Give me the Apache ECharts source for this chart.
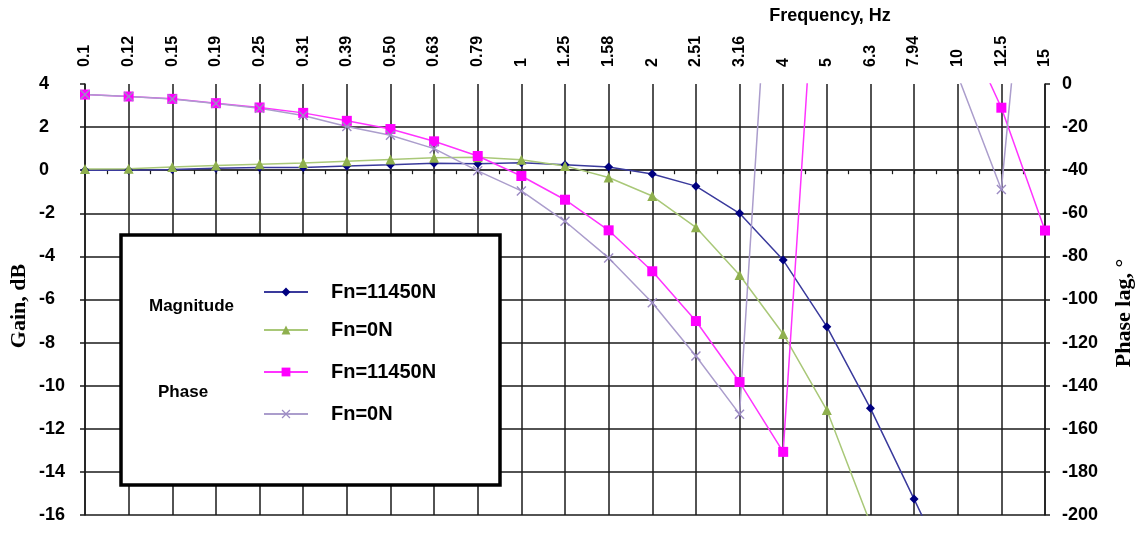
<!DOCTYPE html>
<html>
<head>
    <meta charset="utf-8">
    <title>Gain / Phase</title>
    <script src="https://cdn.jsdelivr.net/npm/echarts@6/dist/echarts.min.js"></script>
    <style>
        html, body { margin: 0; padding: 0; background: #fff; }
        #chart { width: 1137px; height: 533px; }
    </style>
</head>
<body>
    <div id="chart"></div>
    <script>
        // frequency categories (Hz)
        var freqs = ['0.1', '0.12', '0.15', '0.19', '0.25', '0.31', '0.39', '0.50', '0.63', '0.79', '1', '1.25', '1.58', '2', '2.51', '3.16', '4', '5', '6.3', '7.94', '10', '12.5', '15'];
        // gain, dB
        var gain11450 = [0.0, 0.0, 0.03, 0.09, 0.12, 0.12, 0.2, 0.25, 0.32, 0.3, 0.35, 0.25, 0.15, -0.18, -0.74, -2.0, -4.17, -7.26, -11.05, -15.26, -19.5, '-', '-'];
        var gain0 = [0.05, 0.07, 0.15, 0.22, 0.28, 0.33, 0.42, 0.5, 0.58, 0.6, 0.48, 0.2, -0.34, -1.2, -2.65, -4.86, -7.6, -11.13, -16.4, '-', '-', '-', '-'];
        // phase lag, deg ('-' = off the chart, not read)
        var phase11450 = [-4.9, -5.8, -6.9, -8.9, -10.9, -13.4, -17.1, -20.9, -26.6, -33.4, -42.7, -53.7, -67.9, -86.9, -110, -138.3, -170.7, 140, '-', '-', 33, -11, -68];
        var phase0 = [-4.9, -5.8, -7, -9, -11.3, -14.6, -19.7, -23.8, -30, -40.3, -49.6, -63.7, -80.7, -101.5, -126.2, -153.2, 168, '-', '-', '-', 4, -49, 164];

        var names = { mag11450: 'Fn=11450N', mag0: 'Fn=0N', ph11450: 'Fn=11450N', ph0: 'Fn=0N' };
        var crossSymbol = 'path://M0 1L1 0L5 4L9 0L10 1L6 5L10 9L9 10L5 6L1 10L0 9L4 5Z';
        var gridColor = '#1a1a1a';
        var labelFont = { fontFamily: 'Liberation Sans', fontWeight: 'bold', color: '#000' };

        function legendAt(name, top) {
            return {
                data: [name],
                left: 263,
                top: top,
                orient: 'vertical',
                padding: 0,
                itemWidth: 44,
                itemHeight: 11,
                z: 100,
                selectedMode: false,
                formatter: function (n) { return names[n]; },
                textStyle: { fontFamily: 'Liberation Sans', fontWeight: 'bold', fontSize: 20, color: '#000', padding: [0, 0, 0, 18] }
            };
        }

        var option = {
            backgroundColor: '#fff',
            animation: false,
            grid: { left: 85, right: 92, top: 84, bottom: 18 },
            legend: [
                legendAt('mag11450', 282),
                legendAt('mag0', 320),
                legendAt('ph11450', 362),
                legendAt('ph0', 404)
            ],
            xAxis: [{
                type: 'category',
                position: 'top',
                data: freqs,
                boundaryGap: false,
                axisLine: { lineStyle: { color: '#b3b3b3', width: 1.5 } },
                axisTick: { show: false },
                axisLabel: Object.assign({ rotate: 90, fontSize: 16, margin: 17, interval: 0 }, labelFont),
                splitLine: { show: true, lineStyle: { color: gridColor, width: 1.5 } }
            }, {
                // small ticks between frequencies on the 0 dB line
                type: 'value',
                position: 'bottom',
                min: 0,
                max: 22,
                interval: 0.5,
                axisLine: { onZero: true, onZeroAxisIndex: 0, lineStyle: { color: gridColor, width: 1.5 } },
                axisTick: { show: true, length: 4, lineStyle: { color: gridColor, width: 1.2 } },
                axisLabel: { show: false },
                splitLine: { show: false }
            }],
            yAxis: [{
                type: 'value',
                min: -16,
                max: 4,
                interval: 2,
                axisLine: { show: true, lineStyle: { color: gridColor, width: 1.5 } },
                axisTick: { show: true, length: 5, lineStyle: { color: gridColor, width: 1.5 } },
                axisLabel: Object.assign({ fontSize: 18, align: 'left', margin: 46 }, labelFont),
                splitLine: { show: true, showMaxLine: false, lineStyle: { color: gridColor, width: 1.5 } }
            }, {
                type: 'value',
                position: 'right',
                min: -200,
                max: 0,
                interval: 20,
                axisLine: { show: true, lineStyle: { color: gridColor, width: 1.5 } },
                axisTick: { show: true, length: 5, lineStyle: { color: gridColor, width: 1.5 } },
                axisLabel: Object.assign({ fontSize: 18, align: 'left', margin: 17 }, labelFont),
                splitLine: { show: false }
            }],
            graphic: [
                {
                    type: 'rect', z: 50,
                    shape: { x: 121, y: 235, width: 379, height: 250 },
                    style: { fill: '#fff', stroke: '#000', lineWidth: 3.5 }
                },
                {
                    type: 'text', z: 60, left: 149, top: 298,
                    style: { text: 'Magnitude', font: 'bold 17px "Liberation Sans"', fill: '#000' }
                },
                {
                    type: 'text', z: 60, left: 158, top: 384,
                    style: { text: 'Phase', font: 'bold 17px "Liberation Sans"', fill: '#000' }
                },
                {
                    type: 'text', z: 60, x: 830, y: 16,
                    style: { text: 'Frequency, Hz', font: 'bold 18px "Liberation Sans"', fill: '#000', align: 'center', verticalAlign: 'middle' }
                },
                {
                    type: 'text', z: 60, x: 19, y: 306, rotation: Math.PI / 2,
                    style: { text: 'Gain, dB', font: 'bold 22px "Liberation Serif"', fill: '#000', align: 'center', verticalAlign: 'middle' }
                },
                {
                    type: 'text', z: 60, x: 1124, y: 313, rotation: Math.PI / 2,
                    style: { text: 'Phase lag, \u00b0', font: 'bold 22px "Liberation Serif"', fill: '#000', align: 'center', verticalAlign: 'middle' }
                }
            ],
            series: [{
                name: 'mag11450',
                type: 'line',
                yAxisIndex: 0,
                data: gain11450,
                symbol: 'diamond',
                symbolSize: 9,
                itemStyle: { color: '#000080' },
                lineStyle: { color: '#3a3a9c', width: 1.5 }
            }, {
                name: 'mag0',
                type: 'line',
                yAxisIndex: 0,
                data: gain0,
                symbol: 'triangle',
                symbolSize: 10,
                itemStyle: { color: '#8fb04e' },
                lineStyle: { color: '#a9c878', width: 1.5 }
            }, {
                name: 'ph11450',
                type: 'line',
                yAxisIndex: 1,
                data: phase11450,
                symbol: 'rect',
                symbolSize: 10,
                itemStyle: { color: '#ff00ff' },
                lineStyle: { color: '#ff33ff', width: 1.5 }
            }, {
                name: 'ph0',
                type: 'line',
                yAxisIndex: 1,
                data: phase0,
                symbol: crossSymbol,
                symbolSize: 10,
                itemStyle: { color: '#9d8cc4' },
                lineStyle: { color: '#ab9dcc', width: 1.5 }
            }]
        };

        var chart = echarts.init(document.getElementById('chart'));
        chart.setOption(option);
    </script>
</body>
</html>
